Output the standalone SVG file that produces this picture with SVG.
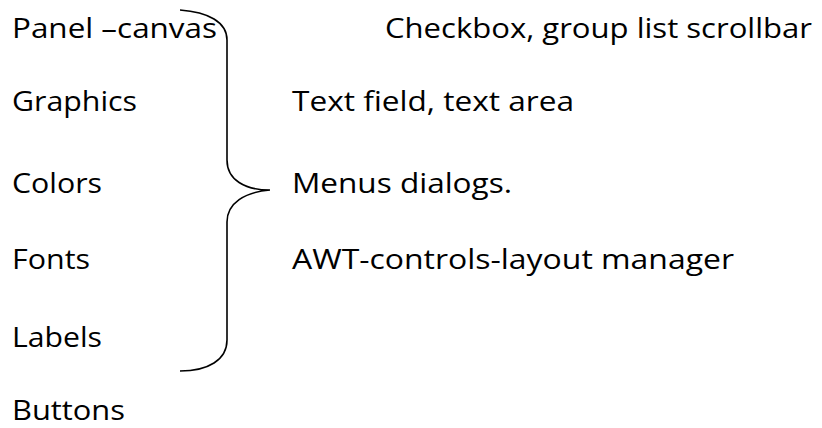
<svg xmlns="http://www.w3.org/2000/svg" width="822" height="428" viewBox="0 0 822 428">
<style>
text{font-family:"Open Sans","Noto Sans","Liberation Sans",sans-serif;font-size:28px;fill:#000}
.brace{fill:none;stroke:#000;stroke-width:1.6}
</style>
<rect width="822" height="428" fill="#fff"/>
<g id="left">
<g id="n-panel"><text x="12" y="38" textLength="205" lengthAdjust="spacingAndGlyphs">Panel –canvas</text></g>
<g id="n-graphics"><text x="12" y="111" textLength="125" lengthAdjust="spacingAndGlyphs">Graphics</text></g>
<g id="n-colors"><text x="12" y="193" textLength="90" lengthAdjust="spacingAndGlyphs">Colors</text></g>
<g id="n-fonts"><text x="12" y="269" textLength="78" lengthAdjust="spacingAndGlyphs">Fonts</text></g>
<g id="n-labels"><text x="12" y="347" textLength="90" lengthAdjust="spacingAndGlyphs">Labels</text></g>
<g id="n-buttons"><text x="12" y="420" textLength="113" lengthAdjust="spacingAndGlyphs">Buttons</text></g>
</g>
<g id="right">
<g id="n-checkbox"><text x="385" y="38" textLength="427" lengthAdjust="spacingAndGlyphs">Checkbox, group list scrollbar</text></g>
<g id="n-textfield"><text x="292" y="111" textLength="282" lengthAdjust="spacingAndGlyphs">Text field, text area</text></g>
<g id="n-menus"><text x="292" y="193" textLength="220" lengthAdjust="spacingAndGlyphs">Menus dialogs.</text></g>
<g id="n-awt"><text x="292" y="269" textLength="442" lengthAdjust="spacingAndGlyphs">AWT-controls-layout manager</text></g>
</g>
<g id="connectors">
<path class="brace" d="M180,10 C208,12 227,22 227,40 L227,160 C227,180 245,190 270,190 C245,192 227,203 227,222 L227,340 C227,360 208,371 180,371"/>
</g>
</svg>
